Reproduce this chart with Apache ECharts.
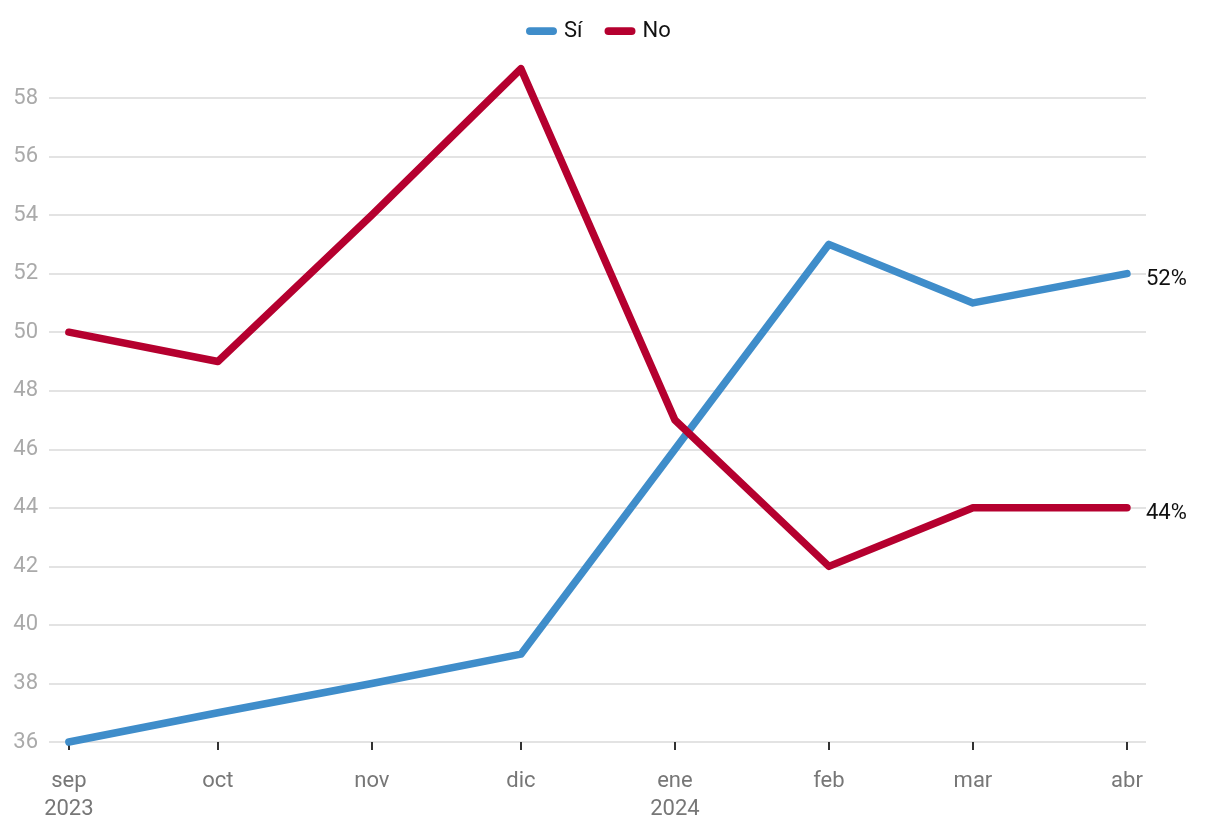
<!DOCTYPE html>
<html>
<head>
<meta charset="utf-8">
<script src="https://cdn.jsdelivr.net/npm/echarts@6/dist/echarts.min.js"></script>
<style>
html,body{margin:0;padding:0;background:#fff;}
#c{width:1220px;height:836px;}
</style>
</head>
<body>
<div id="c"></div>
<script>
// Data
const months = ['2023-09-01','2023-10-01','2023-11-01','2023-12-01','2024-01-01','2024-02-01','2024-03-01','2024-04-01'];
const monthLabels = ['sep\n2023','oct','nov','dic','ene\n2024','feb','mar','abr'];
const siValues = [36, 37, 38, 39, 46, 53, 51, 52];
const noValues = [50, 49, 54, 59, 47, 42, 44, 44];
const yTicks = [36, 38, 40, 42, 44, 46, 48, 50, 52, 54, 56, 58];

function toTime(s){ const p = s.split('-').map(Number); return new Date(p[0], p[1]-1, p[2]).getTime(); }
const times = months.map(toTime);
const labelByTime = {};
times.forEach((t,i)=>{ labelByTime[t] = monthLabels[i]; });

const FONT = 'Roboto, "Noto Sans", sans-serif';
const chart = echarts.init(document.getElementById('c'), null, {renderer:'canvas'});
chart.setOption({
  animation: false,
  backgroundColor: '#fff',
  textStyle: { fontFamily: FONT },
  legend: {
    top: 20,
    left: 526,
    padding: 0,
    itemWidth: 31,
    itemHeight: 8,
    itemGap: 22,
    icon: 'path://M4,0 H28 A4,4 0 0 1 28,8 H4 A4,4 0 0 1 4,0 Z',
    textStyle: { fontSize: 22, color: '#111', fontFamily: FONT, padding: [0,0,0,2] },
    data: ['Sí','No']
  },
  grid: { left: 49, right: 74, top: 98, bottom: 94 },
  xAxis: {
    type: 'time',
    min: new Date(2023, 7, 28).getTime(),
    max: new Date(2024, 3, 4, 20).getTime(),
    minInterval: 28*86400000,
    maxInterval: 31*86400000,
    axisLine: { show: false },
    axisTick: { show: true, length: 8, lineStyle: { color: '#333', width: 2 } },
    splitLine: { show: false },
    axisLabel: {
      color: '#777', fontSize: 22, fontFamily: FONT, margin: 25, lineHeight: 28,
      formatter: function(v){ return labelByTime[v] !== undefined ? labelByTime[v] : ''; }
    }
  },
  yAxis: {
    type: 'value',
    min: yTicks[0],
    max: yTicks[yTicks.length-1],
    interval: 2,
    axisLine: { show: false },
    axisTick: { show: false },
    splitLine: { lineStyle: { color: '#e3e3e3', width: 2 } },
    axisLabel: { color: '#aaa', fontSize: 22, fontFamily: FONT, margin: 11 }
  },
  series: [
    {
      name: 'Sí', type: 'line', showSymbol: false, symbol: 'none', clip: false,
      color: '#3f8dca',
      lineStyle: { width: 7.5, color: '#3f8dca', cap: 'round', join: 'round' },
      data: times.map((t,i)=>[t, siValues[i]]),
      endLabel: { show: true, distance: 19, offset: [0, 6], color: '#111', fontSize: 22, fontFamily: FONT,
        formatter: p => p.value[1] + '%' }
    },
    {
      name: 'No', type: 'line', showSymbol: false, symbol: 'none', clip: false,
      color: '#b5002f',
      lineStyle: { width: 7.5, color: '#b5002f', cap: 'round', join: 'round' },
      data: times.map((t,i)=>[t, noValues[i]]),
      endLabel: { show: true, distance: 19, offset: [0, 6], color: '#111', fontSize: 22, fontFamily: FONT,
        formatter: p => p.value[1] + '%' }
    }
  ]
});
</script>
</body>
</html>
